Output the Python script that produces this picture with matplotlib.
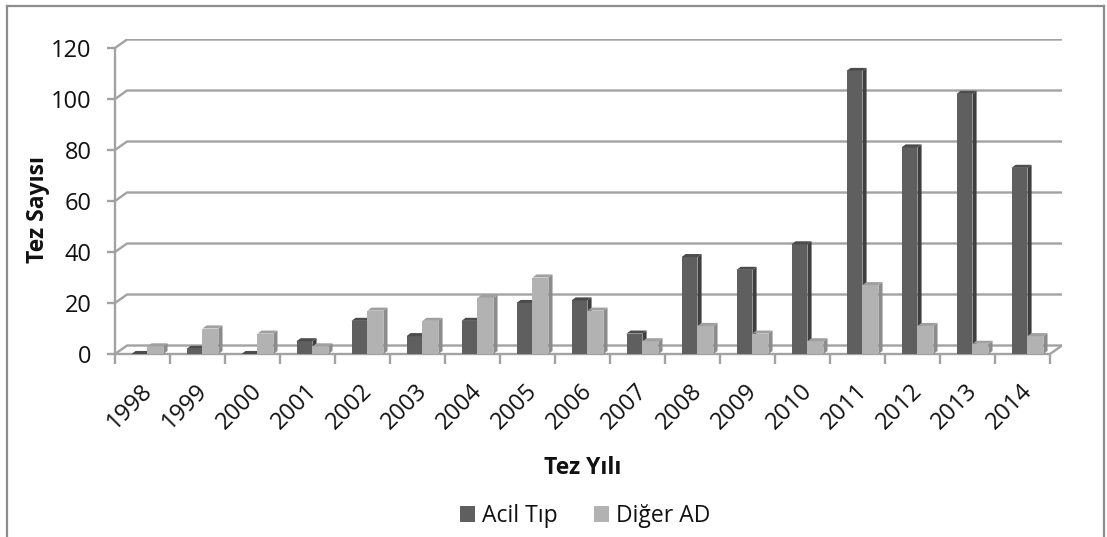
import matplotlib.pyplot as plt
from matplotlib.patches import Polygon, Patch
from matplotlib.lines import Line2D
from matplotlib.transforms import ScaledTranslation

plt.rcParams['font.family'] = ['Open Sans', 'DejaVu Sans']

years = ['1998', '1999', '2000', '2001', '2002', '2003', '2004', '2005', '2006',
         '2007', '2008', '2009', '2010', '2011', '2012', '2013', '2014']
acil_tip = [0, 2, 0, 5, 13, 7, 13, 20, 21, 8, 38, 33, 43, 111, 81, 102, 73]
diger_ad = [3, 10, 8, 3, 17, 13, 22, 30, 17, 5, 11, 8, 5, 27, 11, 4, 7]
series_names = ['Acil Tıp', 'Diğer AD']

# face colours: front, side, top
dark = ('#5f5f5f', '#3f3f3f', '#4c4c4c')
light = ('#b2b2b2', '#8c8c8c', '#a0a0a0')
grid_col = '#a2a2a2'
txt_col = '#111111'

W, H = 1107, 537
fig = plt.figure(figsize=(W / 100, H / 100), dpi=100)

# axes box in pixels: left 115, right 1062, bottom 354, top 39
ax = fig.add_axes([115 / W, (H - 354) / H, (1062 - 115) / W, (354 - 39) / H])
n = len(years)
wall_dx, wall_dy = 0.218, 3.33      # depth of the back wall
bar_dx, bar_dy = 0.075, 1.2         # depth of each bar
ax.set_xlim(0, n + wall_dx)
ax.set_ylim(0, 120 + wall_dy + 0.2)

# back wall grid and floor
for v in range(0, 121, 20):
    ax.plot([0, wall_dx, n + wall_dx], [v, v + wall_dy, v + wall_dy],
            color=grid_col, lw=1.7, zorder=1, solid_capstyle='butt')
ax.plot([n, n + wall_dx], [0, wall_dy], color=grid_col, lw=1.7, zorder=1)


def draw_bar(x0, w, h, cols):
    front, side, top = cols
    ax.add_patch(Polygon([(x0, 0), (x0 + w, 0), (x0 + w, h), (x0, h)],
                         closed=True, fc=front, ec='none', zorder=3))
    ax.add_patch(Polygon([(x0 + w, 0), (x0 + w + bar_dx, bar_dy),
                          (x0 + w + bar_dx, h + bar_dy), (x0 + w, h)],
                         closed=True, fc=side, ec='none', zorder=3))
    ax.add_patch(Polygon([(x0, h), (x0 + w, h), (x0 + w + bar_dx, h + bar_dy),
                          (x0 + bar_dx, h + bar_dy)],
                         closed=True, fc=top, ec='none', zorder=3))


bw = 0.29
for i in range(n):
    draw_bar(i + 0.30, bw, acil_tip[i], dark)
    draw_bar(i + 0.30 + bw, bw, diger_ad[i], light)

# axes, ticks, labels
for s in ('top', 'right'):
    ax.spines[s].set_visible(False)
ax.spines['left'].set_bounds(0, 120)
ax.spines['bottom'].set_bounds(0, n)
for s in ('left', 'bottom'):
    ax.spines[s].set_color(grid_col)
    ax.spines[s].set_linewidth(1.7)
    ax.spines[s].set_zorder(2)

ax.set_yticks(range(0, 121, 20))
ax.tick_params(axis='y', length=6, width=1.7, color=grid_col, labelsize=17,
               pad=11, labelcolor=txt_col)

ax.set_xticks(range(n + 1), minor=True)
ax.set_xticks([i + 0.5 for i in range(n)])
ax.set_xticklabels(years, rotation=45, ha='right', va='center',
                   rotation_mode='anchor', fontsize=17, color=txt_col)
ax.tick_params(axis='x', which='major', length=0, pad=24)
ax.tick_params(axis='x', which='minor', length=7, width=1.7, color=grid_col)
shift = ScaledTranslation(6 / 100, 0, fig.dpi_scale_trans)
for lbl in ax.get_xticklabels():
    lbl.set_transform(lbl.get_transform() + shift)

fig.text(38 / W, 1 - 210 / H, 'Tez Sayısı', rotation=90, ha='center', va='center',
         fontsize=16.5, fontweight='bold', color=txt_col)
fig.text(583 / W, 1 - 468 / H, 'Tez Yılı', ha='center', va='center',
         fontsize=16.5, fontweight='bold', color=txt_col)

handles = [Patch(fc=dark[0], ec='none'), Patch(fc=light[0], ec='none')]
fig.legend(handles, series_names, loc='center', bbox_to_anchor=(585 / W, 1 - 516 / H),
           ncol=2, frameon=False, fontsize=16.5, handlelength=0.65, handleheight=0.65,
           handletextpad=0.3, columnspacing=1.6, labelcolor=txt_col)

# chart border
bc = '#8c8c8c'
fig.add_artist(Line2D([7 / W, 7 / W], [0, 1 - 6 / H], color=bc, lw=1.6,
                      transform=fig.transFigure))
fig.add_artist(Line2D([7 / W, 1104 / W], [1 - 6 / H, 1 - 6 / H], color=bc, lw=1.6,
                      transform=fig.transFigure))
fig.add_artist(Line2D([1104 / W, 1104 / W], [0, 1 - 6 / H], color=bc, lw=1.6,
                      transform=fig.transFigure))

fig.savefig('out.png', dpi=100)
